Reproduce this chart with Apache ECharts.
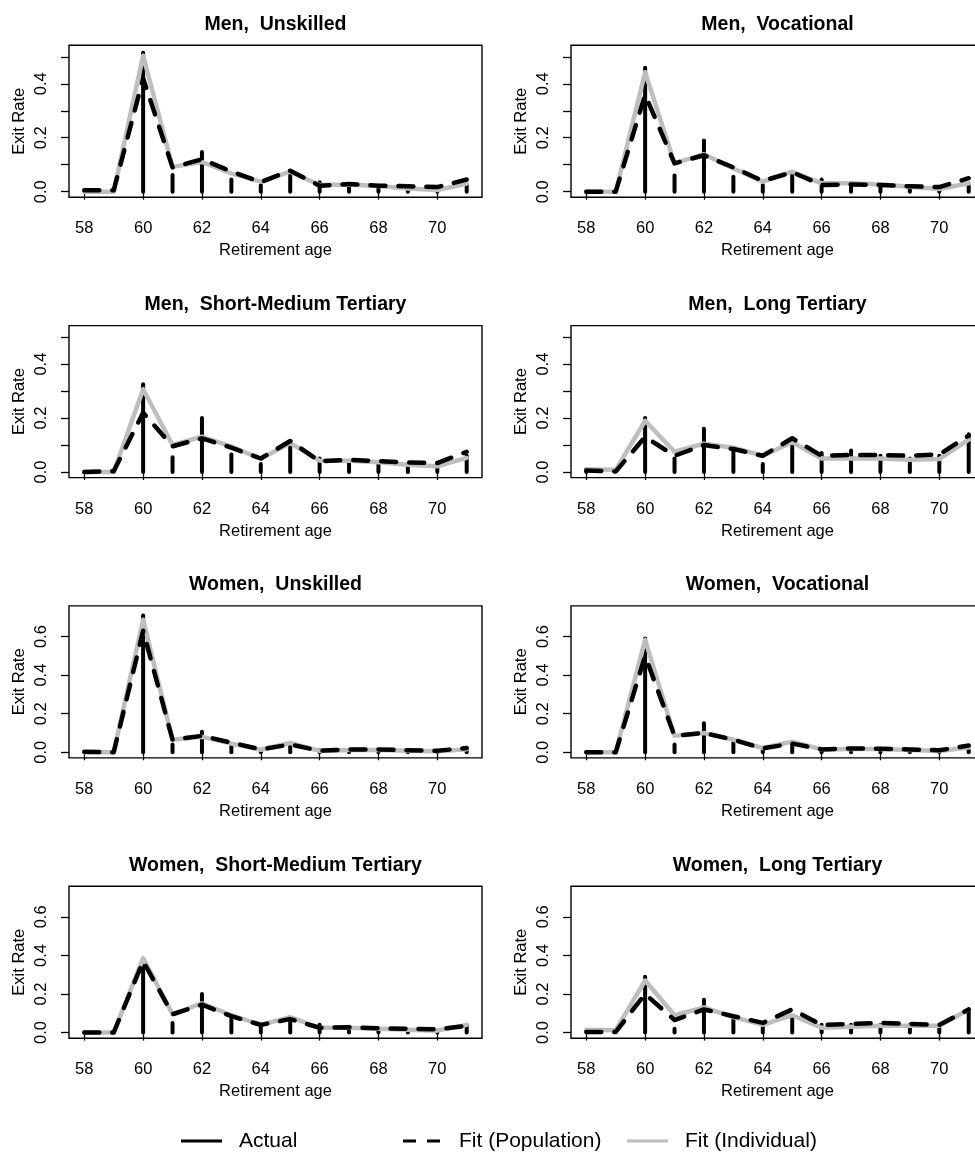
<!DOCTYPE html>
<html>
<head>
<meta charset="utf-8">
<script src="https://cdn.jsdelivr.net/npm/echarts@6/dist/echarts.min.js"></script>
<style>
  html, body { margin: 0; padding: 0; background: #ffffff; }
  #chart { width: 975px; height: 1153px; }
</style>
</head>
<body>
<div id="chart"></div>
<script>
// Retirement ages on the x axis and tick positions
const ages = [58, 59, 60, 61, 62, 63, 64, 65, 66, 67, 68, 69, 70, 71];
const xTicks = [58, 60, 62, 64, 66, 68, 70];
const menYTicks = [0, 0.1, 0.2, 0.3, 0.4, 0.5];
const menYLabels = [0, 0.2, 0.4];
const womenYTicks = [0, 0.2, 0.4, 0.6];
const womenYLabels = [0, 0.2, 0.4, 0.6];

const panelTitles = [
  'Men,  Unskilled', 'Men,  Vocational',
  'Men,  Short-Medium Tertiary', 'Men,  Long Tertiary',
  'Women,  Unskilled', 'Women,  Vocational',
  'Women,  Short-Medium Tertiary', 'Women,  Long Tertiary'
];

// Exit rates by age: observed, population-level fit, individual-level fit
const menUnskilledActual = [0, 0, 0.515, 0.062, 0.147, 0.045, 0.025, 0.068, 0.035, 0.02, 0.02, 0.01, 0.005, 0.025];
const menUnskilledPop    = [0.005, 0.005, 0.42, 0.09, 0.12, 0.075, 0.035, 0.078, 0.022, 0.028, 0.022, 0.02, 0.017, 0.045];
const menUnskilledInd    = [0, 0, 0.504, 0.092, 0.11, 0.068, 0.037, 0.074, 0.025, 0.027, 0.021, 0.012, 0.006, 0.03];

const menVocationalActual = [0, 0, 0.46, 0.06, 0.19, 0.055, 0.025, 0.07, 0.045, 0.02, 0.02, 0.01, 0.005, 0.02];
const menVocationalPop    = [0, 0, 0.36, 0.105, 0.135, 0.09, 0.04, 0.072, 0.025, 0.027, 0.025, 0.02, 0.017, 0.05];
const menVocationalInd    = [0, 0, 0.443, 0.105, 0.139, 0.086, 0.037, 0.074, 0.031, 0.031, 0.027, 0.018, 0.01, 0.031];

const menShortMedActual = [0, 0, 0.325, 0.055, 0.2, 0.065, 0.03, 0.11, 0.05, 0.04, 0.035, 0.02, 0.02, 0.06];
const menShortMedPop    = [0, 0.003, 0.22, 0.095, 0.125, 0.09, 0.05, 0.115, 0.04, 0.045, 0.04, 0.035, 0.033, 0.075];
const menShortMedInd    = [0, 0, 0.307, 0.1, 0.131, 0.094, 0.049, 0.107, 0.042, 0.042, 0.036, 0.027, 0.021, 0.052];

const menLongActual = [0.01, 0, 0.2, 0.05, 0.16, 0.08, 0.03, 0.12, 0.07, 0.08, 0.06, 0.05, 0.06, 0.14];
const menLongPop    = [0.005, 0.002, 0.13, 0.06, 0.1, 0.085, 0.06, 0.125, 0.06, 0.063, 0.063, 0.06, 0.065, 0.135];
const menLongInd    = [0.01, 0.008, 0.19, 0.075, 0.105, 0.09, 0.06, 0.11, 0.05, 0.05, 0.05, 0.045, 0.048, 0.12];

const womenUnskilledActual = [0, 0, 0.71, 0.04, 0.107, 0.03, 0.01, 0.04, 0.01, 0.01, 0.01, 0.005, 0.005, 0.01];
const womenUnskilledPop    = [0.003, 0, 0.63, 0.065, 0.085, 0.05, 0.015, 0.04, 0.008, 0.015, 0.015, 0.01, 0.008, 0.022];
const womenUnskilledInd    = [0, 0, 0.687, 0.065, 0.08, 0.045, 0.013, 0.048, 0.007, 0.012, 0.012, 0.008, 0.005, 0.015];

const womenVocationalActual = [0, 0, 0.59, 0.04, 0.15, 0.05, 0.01, 0.04, 0.01, 0.01, 0.01, 0.005, 0.005, 0.01];
const womenVocationalPop    = [0, 0, 0.5, 0.085, 0.1, 0.065, 0.02, 0.045, 0.015, 0.02, 0.018, 0.015, 0.01, 0.035];
const womenVocationalInd    = [0, 0, 0.583, 0.085, 0.1, 0.065, 0.022, 0.055, 0.015, 0.017, 0.017, 0.012, 0.007, 0.025];

const womenShortMedActual = [0, 0, 0.38, 0.05, 0.2, 0.07, 0.04, 0.07, 0.04, 0.03, 0.02, 0.01, 0.01, 0.04];
const womenShortMedPop    = [0, 0, 0.37, 0.095, 0.145, 0.085, 0.04, 0.07, 0.025, 0.027, 0.022, 0.02, 0.017, 0.035];
const womenShortMedInd    = [0, 0, 0.386, 0.095, 0.152, 0.09, 0.04, 0.08, 0.025, 0.025, 0.02, 0.015, 0.01, 0.04];

const womenLongActual = [0, 0, 0.29, 0.02, 0.17, 0.07, 0.04, 0.08, 0.04, 0.04, 0.04, 0.04, 0.04, 0.12];
const womenLongPop    = [0.003, 0.003, 0.2, 0.065, 0.12, 0.085, 0.05, 0.12, 0.04, 0.045, 0.05, 0.045, 0.04, 0.12];
const womenLongInd    = [0.015, 0.012, 0.27, 0.09, 0.13, 0.08, 0.04, 0.09, 0.025, 0.03, 0.035, 0.035, 0.035, 0.12];

const panels = [
  { actual: menUnskilledActual, pop: menUnskilledPop, ind: menUnskilledInd, sex: 'men' },
  { actual: menVocationalActual, pop: menVocationalPop, ind: menVocationalInd, sex: 'men' },
  { actual: menShortMedActual, pop: menShortMedPop, ind: menShortMedInd, sex: 'men' },
  { actual: menLongActual, pop: menLongPop, ind: menLongInd, sex: 'men' },
  { actual: womenUnskilledActual, pop: womenUnskilledPop, ind: womenUnskilledInd, sex: 'women' },
  { actual: womenVocationalActual, pop: womenVocationalPop, ind: womenVocationalInd, sex: 'women' },
  { actual: womenShortMedActual, pop: womenShortMedPop, ind: womenShortMedInd, sex: 'women' },
  { actual: womenLongActual, pop: womenLongPop, ind: womenLongInd, sex: 'women' }
];

// Axis limits (R-style 4% padding around the data range)
const X_LIM = [58, 71];
const Y_LIM = { men: [0, 0.522], women: [0, 0.73] };
function padded(lim) {
  const d = (lim[1] - lim[0]) * 0.04;
  return [lim[0] - d, lim[1] + d];
}

// Layout of the 4 x 2 panel grid
const FONT = 'Liberation Sans, Arial, Helvetica, sans-serif';
const COL_LEFT = [69, 571];
const ROW_TOP = [45.3, 325.6, 605.9, 886.2];
const BOX_W = 413;
const BOX_H = 152;

const NAME_ACTUAL = 'Actual';
const NAME_POP = 'Fit (Population)';
const NAME_IND = 'Fit (Individual)';

const grids = [], xAxes = [], yAxes = [], series = [], titles = [];

panels.forEach((p, i) => {
  const row = Math.floor(i / 2), col = i % 2;
  const left = COL_LEFT[col], top = ROW_TOP[row];
  grids.push({
    left: left, top: top, width: BOX_W, height: BOX_H,
    show: true, borderColor: '#000', borderWidth: 1.4,
    backgroundColor: 'transparent', containLabel: false, outerBoundsMode: 'none'
  });
  const xr = padded(X_LIM);
  xAxes.push({
    type: 'value', gridIndex: i, min: xr[0], max: xr[1],
    splitLine: { show: false },
    axisLine: { show: false },
    axisTick: { show: true, customValues: xTicks, length: 8, lineStyle: { color: '#000', width: 1.3 } },
    axisLabel: { customValues: xTicks, margin: 23, fontSize: 16.5, color: '#000', fontFamily: FONT },
    name: 'Retirement age', nameLocation: 'middle', nameGap: 45,
    nameTextStyle: { fontSize: 16.5, color: '#000', fontFamily: FONT }
  });
  const yr = padded(Y_LIM[p.sex]);
  const yt = p.sex === 'men' ? menYTicks : womenYTicks;
  const yl = p.sex === 'men' ? menYLabels : womenYLabels;
  yAxes.push({
    type: 'value', gridIndex: i, min: yr[0], max: yr[1],
    splitLine: { show: false },
    axisLine: { show: false },
    axisTick: { show: true, customValues: yt, length: 8, lineStyle: { color: '#000', width: 1.3 } },
    axisLabel: {
      customValues: yl, rotate: 90, margin: 19, fontSize: 16.5, color: '#000', fontFamily: FONT,
      formatter: v => Number(v).toFixed(1)
    },
    name: 'Exit Rate', nameLocation: 'middle', nameGap: 41, nameRotate: 90,
    nameTextStyle: { fontSize: 16.5, color: '#000', fontFamily: FONT }
  });
  titles.push({
    text: panelTitles[i], left: left + BOX_W / 2, top: top - 21,
    textAlign: 'center', textVerticalAlign: 'middle', padding: 0,
    textStyle: { fontSize: 19.5, fontWeight: 'bold', color: '#000', fontFamily: FONT }
  });

  // Observed rates: vertical spikes from zero to the value
  series.push({
    type: 'custom', name: NAME_ACTUAL, xAxisIndex: i, yAxisIndex: i,
    data: ages.map((a, k) => [a, p.actual[k]]),
    itemStyle: { color: '#000' },
    renderItem: (params, api) => {
      const x = api.value(0), y = api.value(1);
      const p0 = api.coord([x, 0]);
      const p1 = api.coord([x, y]);
      return {
        type: 'line',
        shape: { x1: p0[0], y1: p0[1], x2: p1[0], y2: p1[1] },
        style: { stroke: '#000', lineWidth: 4, lineCap: 'round' }
      };
    },
    silent: true, z: 2
  });
  // Individual-level fit: solid grey
  series.push({
    type: 'line', name: NAME_IND, xAxisIndex: i, yAxisIndex: i,
    data: ages.map((a, k) => [a, p.ind[k]]),
    showSymbol: false, symbol: 'none', silent: true, animation: false,
    itemStyle: { color: '#bebebe' },
    lineStyle: { color: '#bebebe', width: 4.5, cap: 'round', join: 'round' },
    z: 3
  });
  // Population-level fit: dashed black
  series.push({
    type: 'line', name: NAME_POP, xAxisIndex: i, yAxisIndex: i,
    data: ages.map((a, k) => [a, p.pop[k]]),
    showSymbol: false, symbol: 'none', silent: true, animation: false,
    itemStyle: { color: '#000' },
    lineStyle: { color: '#000', width: 4.5, type: [15, 13], cap: 'round', join: 'round' },
    z: 4
  });
});

// Legend at the bottom: one component per entry so entries sit at fixed positions
const legendBase = {
  orient: 'horizontal', top: 1129, padding: 0, itemGap: 0,
  itemWidth: 41, itemHeight: 3, selectedMode: false,
  textStyle: { fontSize: 21, color: '#000', fontFamily: FONT, padding: [0, 0, 0, 12], lineHeight: 24 }
};
const legends = [
  Object.assign({}, legendBase, { left: 181, data: [{ name: NAME_ACTUAL, icon: 'rect', itemStyle: { color: '#000' } }] }),
  Object.assign({}, legendBase, { left: 403, data: [{ name: NAME_POP, icon: 'path://M0,0H13V3H0Z M24,0H37V3H24Z', itemStyle: { color: '#000' } }] }),
  Object.assign({}, legendBase, { left: 627, data: [{ name: NAME_IND, icon: 'rect', itemStyle: { color: '#bebebe' } }] })
];

const chart = echarts.init(document.getElementById('chart'), null, { renderer: 'canvas' });
chart.setOption({
  animation: false,
  backgroundColor: '#ffffff',
  title: titles,
  legend: legends,
  grid: grids,
  xAxis: xAxes,
  yAxis: yAxes,
  series: series
});
</script>
</body>
</html>
